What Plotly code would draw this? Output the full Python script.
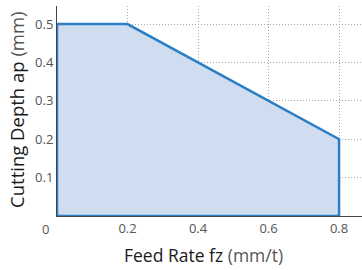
import plotly.graph_objects as go

feed_rate = [0.0, 0.0, 0.2, 0.8, 0.8, 0.0]
cut_depth = [0.0, 0.5, 0.5, 0.2, 0.0, 0.0]
x_ticks = [0.2, 0.4, 0.6, 0.8]
x_tick_labels = ["0.2", "0.4", "0.6", "0.8"]
y_ticks = [0.1, 0.2, 0.3, 0.4, 0.5]
y_tick_labels = ["0.1", "0.2", "0.3", "0.4", "0.5"]

fig = go.Figure()
fig.add_trace(go.Scatter(
    x=feed_rate, y=cut_depth, mode="lines", fill="toself",
    fillcolor="rgba(208,221,240,1)",
    line=dict(color="#2a7fc6", width=2.5),
    hoverinfo="skip", showlegend=False,
))

font = "Open Sans, Noto Sans, sans-serif"
fig.update_layout(
    width=362, height=270,
    margin=dict(l=57, r=0, t=6, b=54),
    paper_bgcolor="white", plot_bgcolor="white",
    font=dict(family=font),
    xaxis=dict(
        range=[0, 0.865], tickvals=x_ticks, ticktext=x_tick_labels,
        showgrid=True, gridcolor="#a8a8a8", griddash="1px,2px", gridwidth=1,
        showline=True, linecolor="#444", linewidth=1,
        ticks="", tickfont=dict(size=13, color="#555"),
        zeroline=False, automargin=False,
    ),
    yaxis=dict(
        range=[0, 0.547], tickvals=y_ticks, ticktext=y_tick_labels,
        showgrid=True, gridcolor="#a8a8a8", griddash="1px,2px", gridwidth=1,
        showline=True, linecolor="#444", linewidth=1,
        ticks="", tickfont=dict(size=13, color="#555"),
        zeroline=False, automargin=False,
    ),
    annotations=[
        dict(x=0, y=0, xref="x", yref="y", text="0", showarrow=False,
             xshift=-12, yshift=-13, font=dict(size=13, color="#555", family=font)),
        dict(x=0.479, y=0, xref="paper", yref="paper", xanchor="center", yanchor="middle",
             yshift=-39, showarrow=False,
             text="Feed Rate fz <span style='color:#555'>(mm/t)</span>",
             font=dict(size=17.5, color="#1a1a1a", family=font)),
        dict(x=0, y=0.505, xref="paper", yref="paper", xanchor="center", yanchor="middle",
             xshift=-40, showarrow=False, textangle=-90,
             text="Cutting Depth ap <span style='color:#555'>(mm)</span>",
             font=dict(size=18.5, color="#1a1a1a", family=font)),
    ],
)

fig.write_html("out.html", config={"displayModeBar": False},
               post_script="document.body.style.margin='0';document.body.style.overflow='hidden';")
